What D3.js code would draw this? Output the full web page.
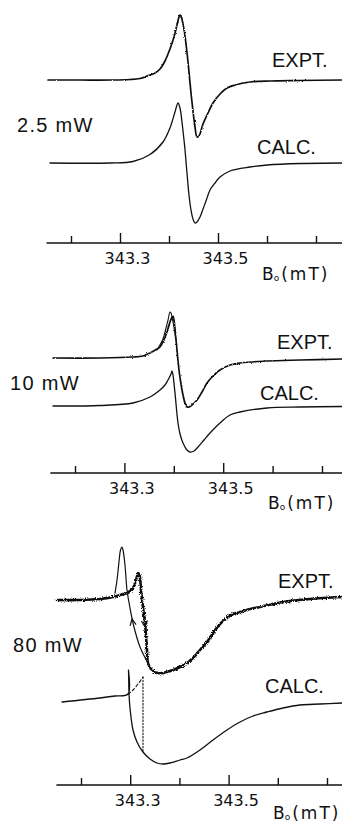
<!DOCTYPE html>
<html><head><meta charset="utf-8">
<script src="https://cdn.jsdelivr.net/npm/d3@7"></script>
<style>body{margin:0;background:#fff}</style>
</head><body><svg id="c" width="342" height="825"></svg>
<script>
// ---------- DATA (B0 in mT, signal in arbitrary units relative to each trace baseline) ----------
const tickValues = [343.2, 343.3, 343.4, 343.5, 343.6, 343.7];
const tickLabels = ["", "343.3", "", "343.5", "", ""];
const powerLabels = ["2.5 mW", "10 mW", "80 mW"];
const traceLabels = ["EXPT.", "CALC."];
const axisTitleMain = "B", axisTitleSub = "o", axisTitleUnit = "(mT)";

const expt25 = [[343.1531,0],[343.2184,0],[343.2796,0],[343.3204,0.5],[343.3408,1.5],[343.3612,5],[343.3714,7],[343.3816,11],[343.3918,19],[343.4020,31],[343.4102,43],[343.4163,55],[343.4204,63],[343.4224,65],[343.4245,64],[343.4286,56],[343.4327,44],[343.4388,18],[343.4429,-3],[343.4469,-22],[343.4531,-47],[343.4571,-57],[343.4612,-56],[343.4694,-44],[343.4796,-33],[343.4898,-23],[343.5041,-14],[343.5184,-8],[343.5347,-5],[343.5653,-2],[343.6061,-1],[343.6673,-0.5],[343.7531,0]];
const calc25 = [[343.1571,0],[343.2796,0],[343.3265,1.5],[343.3612,8.5],[343.3878,21],[343.4020,35],[343.4061,41],[343.4122,51],[343.4184,60],[343.4224,55],[343.4265,41],[343.4306,23],[343.4327,13],[343.4367,-10],[343.4408,-32],[343.4449,-47],[343.4490,-56],[343.4531,-60],[343.4571,-59],[343.4633,-54],[343.4694,-46],[343.4755,-38],[343.4837,-27],[343.4939,-20],[343.5041,-14],[343.5245,-8],[343.5653,-4],[343.6000,-2],[343.6673,-0.5],[343.7531,0]];

const expt10 = [[343.1555,0],[343.2506,0],[343.3174,1],[343.3377,2],[343.3518,5],[343.3660,9],[343.3721,11],[343.3781,16],[343.3862,26],[343.3923,36],[343.3964,41],[343.3984,42],[343.4004,38],[343.4045,18],[343.4105,-12],[343.4146,-26],[343.4186,-37],[343.4227,-45],[343.4267,-49],[343.4308,-49],[343.4368,-47],[343.4470,-42],[343.4571,-34],[343.4672,-25],[343.4794,-18],[343.4935,-12],[343.5138,-7],[343.5340,-5],[343.5887,-3],[343.6555,-2],[343.7405,-1]];
const expt10Overlay = [[343.3660,8],[343.3781,19],[343.3842,30],[343.3883,38],[343.3923,46],[343.3943,45],[343.3984,36],[343.4045,18]];
const calc10 = [[343.1555,0],[343.2506,0.5],[343.3174,3],[343.3518,9],[343.3721,16],[343.3822,21],[343.3883,26],[343.3943,32],[343.3964,35],[343.3984,31],[343.4024,13],[343.4085,-17],[343.4126,-28],[343.4186,-37],[343.4267,-44],[343.4328,-46],[343.4409,-45],[343.4490,-41],[343.4611,-34],[343.4733,-27],[343.4935,-17],[343.5138,-9],[343.5340,-6],[343.5887,-2],[343.6555,-1],[343.7405,-0.5]];

const expt80 = [[343.1512,0],[343.1980,0],[343.2386,1],[343.2650,3],[343.2793,5],[343.2935,7],[343.3057,12],[343.3118,20],[343.3159,27],[343.3189,25],[343.3220,10],[343.3260,-7],[343.3301,-23],[343.3341,-50],[343.3362,-63],[343.3423,-69],[343.3545,-73],[343.3667,-73],[343.3870,-70],[343.4012,-67],[343.4154,-63],[343.4276,-58],[343.4419,-50],[343.4561,-42],[343.4683,-33],[343.4825,-24],[343.4967,-18],[343.5089,-14],[343.5232,-12],[343.5435,-9],[343.5638,-7],[343.6106,-2],[343.6654,1],[343.7305,3]];
const expt80Reverse = [[343.3362,-63],[343.3199,-47],[343.3057,-23],[343.2996,-8],[343.2935,10],[343.2894,35],[343.2854,50],[343.2833,53],[343.2803,50],[343.2772,38],[343.2732,20],[343.2691,7]];
const arrows80 = [ // [B, s (tip), B, s (tail direction)]
  [343.3037,-19, 343.3110,-40],
  [343.3301,-27, 343.3265,-8]
];
const calc80 = [[343.1614,0],[343.2386,4],[343.2691,6],[343.2955,8],[343.2965,32],[343.2976,8],[343.2996,-6],[343.3057,-28],[343.3138,-40],[343.3260,-50],[343.3402,-57],[343.3545,-61],[343.3667,-62],[343.3809,-61],[343.4012,-58],[343.4154,-56],[343.4419,-48],[343.4683,-38],[343.4967,-28],[343.5232,-20],[343.5496,-14],[343.5780,-10],[343.6106,-6],[343.6451,-3],[343.6858,-2],[343.7305,-1]];
const calc80Dashed = [[343.2955,8],[343.3057,12],[343.3159,18],[343.3260,25]];
const calc80Dotted = [[343.3260,25],[343.3260,-50]];

// ---------- LAYOUT ----------
const W = 342, H = 825;
const panels = [
  {range:[71,316], axisY:243, exptBase:80, calcBase:163, power:[17,132], expt:[272,67], calc:[257,154], title:[262,280],
   traces:[{d:expt25,b:"e",w:1.7,rough:"r1"},{d:calc25,b:"c",w:1.3}]},
  {range:[75,322], axisY:473, exptBase:358, calcBase:406, power:[10,390], expt:[277,349], calc:[260,400], title:[268,509],
   traces:[{d:expt10,b:"e",w:1.7,rough:"r1"},{d:expt10Overlay,b:"e",w:1.1},{d:calc10,b:"c",w:1.3}]},
  {range:[81,327], axisY:785, exptBase:600, calcBase:702, power:[13,652], expt:[278,588], calc:[265,693], title:[273,819],
   traces:[{d:expt80,b:"e",w:2.6,rough:"r2"},{d:expt80Reverse,b:"e",w:1.2},{d:calc80,b:"c",w:1.3},
           {d:calc80Dashed,b:"c",w:1.1,dash:"3,2.5"},{d:calc80Dotted,b:"c",w:1.1,dash:"1.5,1.8",linear:true}],
   arrows:arrows80}
];

const svg = d3.select("#c");
svg.append("rect").attr("width",W).attr("height",H).attr("fill","#fff");
const defs = svg.append("defs");
[["r1",1.1,2.2],["r2",1.1,3.8]].forEach(([id,f,sc])=>{
  const flt = defs.append("filter").attr("id",id).attr("x","-5%").attr("y","-20%").attr("width","110%").attr("height","140%");
  flt.append("feTurbulence").attr("type","fractalNoise").attr("baseFrequency",`0.9 ${f}`).attr("numOctaves",2).attr("seed",3).attr("result","n");
  flt.append("feDisplacementMap").attr("in","SourceGraphic").attr("in2","n").attr("scale",sc)
    .attr("xChannelSelector","R").attr("yChannelSelector","G");
});

panels.forEach((p,i)=>{
  const g = svg.append("g");
  const x = d3.scaleLinear().domain([343.2,343.7]).range(p.range);
  const yE = d3.scaleLinear().domain([0,1]).range([p.exptBase,p.exptBase-1]);
  const yC = d3.scaleLinear().domain([0,1]).range([p.calcBase,p.calcBase-1]);

  // axis
  const axis = d3.axisBottom(x).tickValues(tickValues).tickSize(-7).tickSizeOuter(0)
      .tickFormat((d,k)=>tickLabels[k]);
  const ag = g.append("g").attr("transform",`translate(0,${p.axisY})`).call(axis);
  ag.select(".domain").remove();
  ag.insert("line",":first-child").attr("x1",x(343.15)).attr("x2",W).attr("y1",0).attr("y2",0)
    .attr("stroke","#111").attr("stroke-width",1.6);
  ag.selectAll(".tick line").attr("stroke","#111").attr("stroke-width",1.4)
    .attr("y2",(d,k)=>tickLabels[k]?-10:-7);
  ag.selectAll(".tick text").attr("fill","#111").attr("dx",7).attr("dy",0).attr("y",21)
    .style("font-family","DejaVu Sans").style("font-size","16px").attr("text-anchor","middle");

  // axis title
  const t = g.append("text").attr("x",p.title[0]).attr("y",p.title[1]).attr("fill","#111")
    .style("font-family","DejaVu Sans").style("font-size","17px");
  t.append("tspan").text(axisTitleMain);
  t.append("tspan").attr("dy",1).style("font-size","9px").text(axisTitleSub);
  t.append("tspan").attr("dy",-1).attr("dx",2).style("letter-spacing","2px").text(axisTitleUnit);

  // traces
  p.traces.forEach(tr=>{
    const y = tr.b==="e"?yE:yC;
    const line = d3.line().x(d=>x(d[0])).y(d=>y(d[1]))
      .curve(tr.linear?d3.curveLinear:d3.curveCatmullRom.alpha(0.5));
    g.append("path").attr("d",line(tr.d)).attr("fill","none").attr("stroke","#111")
      .attr("stroke-width",tr.w).attr("stroke-linejoin","round").attr("stroke-linecap","round")
      .attr("stroke-dasharray",tr.dash||null)
      .attr("filter",tr.rough?`url(#${tr.rough})`:null);
  });

  // arrows
  (p.arrows||[]).forEach(a=>{
    const tx=x(a[0]), ty=yE(a[1]), fx=x(a[2]), fy=yE(a[3]);
    const ang=Math.atan2(ty-fy,tx-fx), L=7, s=0.45;
    const p1=[tx-L*Math.cos(ang-s), ty-L*Math.sin(ang-s)];
    const p2=[tx-L*Math.cos(ang+s), ty-L*Math.sin(ang+s)];
    g.append("path").attr("d",`M${p1}L${tx},${ty}L${p2}`).attr("fill","none")
      .attr("stroke","#111").attr("stroke-width",1.2);
  });

  // labels
  g.append("text").attr("x",p.power[0]).attr("y",p.power[1]).text(powerLabels[i])
    .style("font-family","Liberation Sans").style("font-size","20px").style("letter-spacing","1.3px").attr("fill","#111");
  g.append("text").attr("x",p.expt[0]).attr("y",p.expt[1]).text(traceLabels[0])
    .style("font-family","Liberation Sans").style("font-size","20px").attr("fill","#111");
  g.append("text").attr("x",p.calc[0]).attr("y",p.calc[1]).text(traceLabels[1])
    .style("font-family","Liberation Sans").style("font-size","20px").attr("fill","#111");
});
</script></body></html>
